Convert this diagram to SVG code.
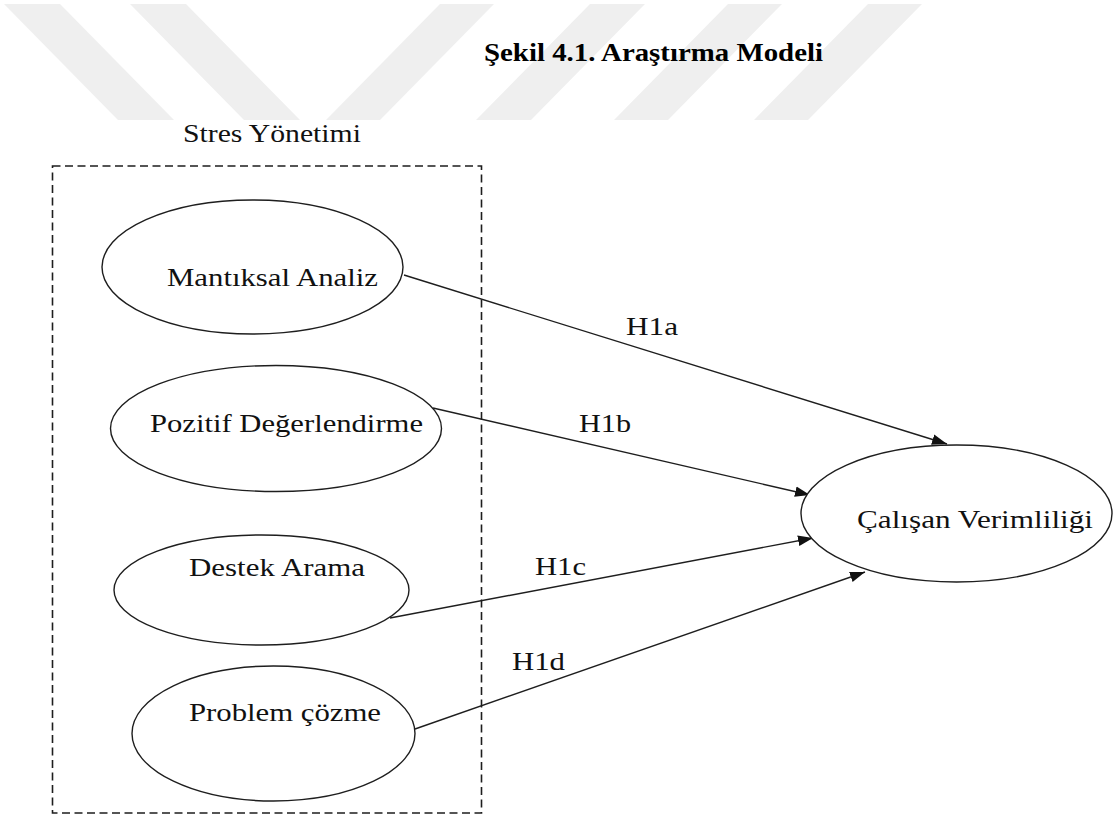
<svg xmlns="http://www.w3.org/2000/svg" width="1118" height="819" viewBox="0 0 1118 819">
  <defs>
    <style>
      .wm { fill: #efefef; }
      .node { fill: #ffffff; stroke: #1e1e1e; stroke-width: 1.4; }
      .group { fill: none; stroke: #1e1e1e; stroke-width: 1.6; stroke-dasharray: 8 4.5; }
      .edge { stroke: #1e1e1e; stroke-width: 1.4; fill: none; marker-end: url(#arrow); }
      .lbl { font-family: "Liberation Serif", "Times New Roman", serif; font-size: 25px; fill: #111111; }
      .title { font-family: "Liberation Serif", "Times New Roman", serif; font-size: 26px; font-weight: bold; fill: #000000; }
    </style>
    <marker id="arrow" viewBox="0 0 14 10" refX="14" refY="5" markerWidth="15" markerHeight="11" markerUnits="userSpaceOnUse" orient="auto">
      <path d="M0,0 L14,5 L0,10 z" fill="#111111"/>
    </marker>
  </defs>
  <rect x="0" y="0" width="1118" height="819" fill="#ffffff"/>

  <g id="watermark">
    <polygon class="wm" points="4,4 60,4 174,120 118,120"/>
    <polygon class="wm" points="130,4 186,4 300,120 244,120"/>
    <polygon class="wm" points="440,4 494,4 380,120 326,120"/>
    <polygon class="wm" points="590,4 645,4 531,120 476,120"/>
    <polygon class="wm" points="728,4 782,4 668,120 614,120"/>
    <polygon class="wm" points="868,4 922,4 808,120 754,120"/>
  </g>

  <text id="title" class="title" x="484" y="61" textLength="339" lengthAdjust="spacingAndGlyphs">Şekil 4.1. Araştırma Modeli</text>

  <g id="stres-yonetimi">
    <rect class="group" x="52.5" y="166" width="429" height="647"/>
    <text class="lbl" x="183" y="141.5" textLength="178" lengthAdjust="spacingAndGlyphs">Stres Yönetimi</text>
  </g>

  <g id="connectors">
    <line class="edge" x1="404" y1="275" x2="947" y2="444"/>
    <line class="edge" x1="433" y1="408" x2="810" y2="495"/>
    <line class="edge" x1="390" y1="618" x2="813" y2="538"/>
    <line class="edge" x1="415" y1="729" x2="865" y2="572"/>
    <text class="lbl" x="626" y="335" textLength="52" lengthAdjust="spacingAndGlyphs">H1a</text>
    <text class="lbl" x="579" y="432" textLength="52" lengthAdjust="spacingAndGlyphs">H1b</text>
    <text class="lbl" x="535" y="575" textLength="51" lengthAdjust="spacingAndGlyphs">H1c</text>
    <text class="lbl" x="512" y="670" textLength="53" lengthAdjust="spacingAndGlyphs">H1d</text>
  </g>

  <g id="mantiksal-analiz">
    <ellipse class="node" cx="252.5" cy="267" rx="150.5" ry="67"/>
    <text class="lbl" x="167" y="286" textLength="211" lengthAdjust="spacingAndGlyphs">Mantıksal Analiz</text>
  </g>

  <g id="pozitif-degerlendirme">
    <ellipse class="node" cx="276" cy="428.5" rx="165.5" ry="63"/>
    <text class="lbl" x="150" y="431.5" textLength="273" lengthAdjust="spacingAndGlyphs">Pozitif Değerlendirme</text>
  </g>

  <g id="destek-arama">
    <ellipse class="node" cx="261.5" cy="590" rx="147.5" ry="55"/>
    <text class="lbl" x="189" y="575.5" textLength="176" lengthAdjust="spacingAndGlyphs">Destek Arama</text>
  </g>

  <g id="problem-cozme">
    <ellipse class="node" cx="273.5" cy="733.5" rx="141.5" ry="67.5"/>
    <text class="lbl" x="189" y="720.5" textLength="192" lengthAdjust="spacingAndGlyphs">Problem çözme</text>
  </g>

  <g id="calisan-verimliligi">
    <ellipse class="node" cx="956.5" cy="513.5" rx="155.5" ry="68.5"/>
    <text class="lbl" x="857" y="527.5" textLength="236" lengthAdjust="spacingAndGlyphs">Çalışan Verimliliği</text>
  </g>
</svg>
